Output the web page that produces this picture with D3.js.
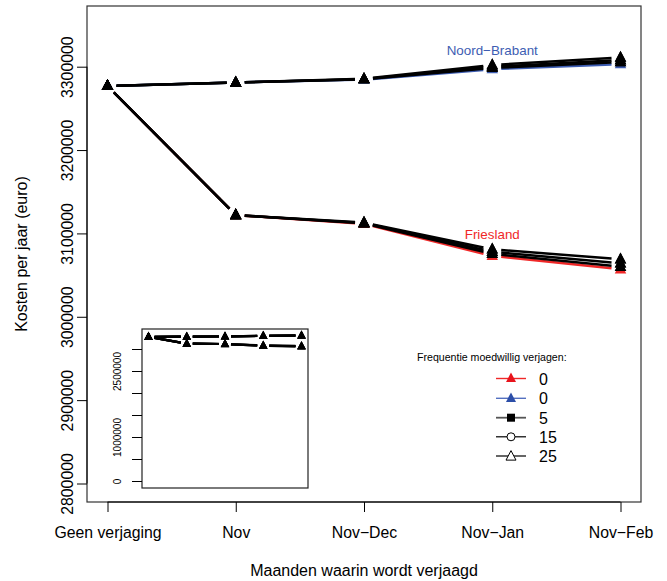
<!DOCTYPE html>
<html>
<head>
<meta charset="utf-8">
<script src="https://cdn.jsdelivr.net/npm/d3@7"></script>
<style>
  html, body { margin: 0; padding: 0; background: #fff; }
  svg { display: block; font-family: "Liberation Sans", Arial, Helvetica, sans-serif; }
</style>
</head>
<body>
<svg id="chart" width="667" height="581"></svg>
<script>
// ---------- DATA ----------
const categories = ["Geen verjaging", "Nov", "Nov\u2212Dec", "Nov\u2212Jan", "Nov\u2212Feb"];
const yTicks = [2800000, 2900000, 3000000, 3100000, 3200000, 3300000];
const insetTicks = [0, 500000, 1000000, 1500000, 2000000, 2500000, 3000000];
const insetTickLabels = ["0", "", "1000000", "", "", "2500000", ""];

const friesland0  = [3277000, 3122000, 3111500, 3073000, 3057000];
const friesland5  = [3277000, 3122000, 3112000, 3075500, 3060000];
const friesland15 = [3277000, 3122000, 3112500, 3078000, 3064000];
const friesland25 = [3277000, 3122000, 3113000, 3081000, 3069000];
const brabant0    = [3277000, 3281000, 3284500, 3297000, 3303000];
const brabant5    = [3277000, 3281000, 3285000, 3298500, 3305500];
const brabant15   = [3277000, 3281000, 3285000, 3300000, 3308000];
const brabant25   = [3277000, 3281000, 3285500, 3302000, 3311000];

const legendLabels = ["0", "0", "5", "15", "25"];
const legendTitle = "Frequentie moedwillig verjagen:";

// ---------- STYLE ----------
const RED = "#f02828", BLUE = "#3d5db2";
const FONT = "Liberation Sans, Arial, sans-serif";
const series = [
  { v: friesland0, c: RED }, { v: brabant0, c: BLUE },
  { v: friesland5, c: "#000" }, { v: brabant5, c: "#000" },
  { v: friesland15, c: "#000" }, { v: brabant15, c: "#000" },
  { v: friesland25, c: "#000" }, { v: brabant25, c: "#000" }
];

const svg = d3.select("#chart");
const box = { l: 87, r: 641, t: 6, b: 502 };

const x = d3.scalePoint().domain(categories).range([107.5, 620.5]).padding(0);
const y = d3.scaleLinear().domain([2800000, 3300000]).range([483.5, 66.7]);

function tri(cx, cy, s) {
  const h = s * 0.95;
  return `M${cx},${cy - h * 0.62}L${cx + s / 2},${cy + h * 0.38}L${cx - s / 2},${cy + h * 0.38}Z`;
}

function drawSeries(g, xs, ys, data, color, lw, gap, msize) {
  const pts = data.map((d, i) => [xs(categories[i]), ys(d)]);
  for (let i = 0; i < pts.length - 1; i++) {
    const [x1, y1] = pts[i], [x2, y2] = pts[i + 1];
    const dx = x2 - x1, dy = y2 - y1, L = Math.hypot(dx, dy);
    if (L <= 2 * gap) continue;
    const ux = dx / L, uy = dy / L;
    g.append("line")
      .attr("x1", x1 + ux * gap).attr("y1", y1 + uy * gap)
      .attr("x2", x2 - ux * gap).attr("y2", y2 - uy * gap)
      .attr("stroke", color).attr("stroke-width", lw);
  }
  pts.forEach(([px, py]) => {
    g.append("path").attr("d", tri(px, py, msize)).attr("fill", color);
  });
}

// ---------- MAIN PLOT ----------
const main = svg.append("g");
series.forEach(s => drawSeries(main, x, y, s.v, s.c, 2.5, 9, 11.5));
series.filter(s => s.c === "#000").forEach(s => {
  s.v.forEach((d, i) => main.append("path").attr("d", tri(x(categories[i]), y(d), 11.5)).attr("fill", "#000"));
});

// box
svg.append("rect").attr("x", box.l).attr("y", box.t)
  .attr("width", box.r - box.l).attr("height", box.b - box.t)
  .attr("fill", "none").attr("stroke", "#333").attr("stroke-width", 1.2);

// x axis
const xAxis = svg.append("g").attr("transform", `translate(0,${box.b})`)
  .call(d3.axisBottom(x).tickSize(10).tickPadding(15).tickSizeOuter(0));
xAxis.select(".domain").attr("d", `M${x(categories[0])},0H${x(categories[4])}`).attr("stroke", "#000");
xAxis.selectAll(".tick text").attr("font-size", "15.8px").attr("fill", "#000").attr("font-family", FONT);

// y axis
const yAxis = svg.append("g").attr("transform", `translate(${box.l},0)`)
  .call(d3.axisLeft(y).tickValues(yTicks).tickFormat(d3.format("d")).tickSize(10).tickSizeOuter(0));
yAxis.select(".domain").attr("d", `M0,${y(yTicks[0])}V${y(yTicks[yTicks.length - 1])}`).attr("stroke", "#000");
yAxis.selectAll(".tick text")
  .attr("x", null).attr("dy", null)
  .attr("text-anchor", "middle")
  .attr("transform", "translate(-14,0) rotate(-90)")
  .attr("font-size", "15.8px").attr("fill", "#000").attr("font-family", FONT);

// axis titles
svg.append("text").attr("x", 364).attr("y", 576).attr("text-anchor", "middle")
  .attr("font-size", "16px").text("Maanden waarin wordt verjaagd");
svg.append("text").attr("transform", `translate(27,254) rotate(-90)`).attr("text-anchor", "middle")
  .attr("font-size", "16px").text("Kosten per jaar (euro)");

// region labels
svg.append("text").attr("x", x(categories[3])).attr("y", 55).attr("text-anchor", "middle")
  .attr("font-size", "13.4px").attr("fill", BLUE).text("Noord\u2212Brabant");
svg.append("text").attr("x", x(categories[3])).attr("y", 239).attr("text-anchor", "middle")
  .attr("font-size", "13.4px").attr("fill", RED).text("Friesland");

// ---------- LEGEND ----------
const leg = svg.append("g");
leg.append("text").attr("x", 417).attr("y", 361).attr("font-size", "10.6px").text(legendTitle);
const legRows = [378.5, 398.3, 417.7, 436.8, 456];
const legStyles = [
  { c: RED, lw: 1.4, sym: "tri" },
  { c: "#5470c0", lw: 1.4, sym: "tri" },
  { c: "#555", lw: 1.8, sym: "sq" },
  { c: "#000", lw: 1.2, sym: "circ" },
  { c: "#000", lw: 1.2, sym: "otri" }
];
legendLabels.forEach((lab, i) => {
  const yy = legRows[i], st = legStyles[i];
  leg.append("line").attr("x1", 496).attr("x2", 526).attr("y1", yy).attr("y2", yy)
    .attr("stroke", st.c).attr("stroke-width", st.lw);
  if (st.sym === "tri") leg.append("path").attr("d", tri(511, yy, 10)).attr("fill", i === 0 ? "#e8141c" : "#2c4ea8");
  if (st.sym === "sq") leg.append("rect").attr("x", 507).attr("y", yy - 4).attr("width", 8).attr("height", 8).attr("fill", "#000");
  if (st.sym === "circ") leg.append("circle").attr("cx", 511).attr("cy", yy).attr("r", 4)
    .attr("fill", "#fff").attr("stroke", "#000").attr("stroke-width", 1);
  if (st.sym === "otri") leg.append("path").attr("d", tri(511, yy + 0.5, 10)).attr("fill", "#fff")
    .attr("stroke", "#000").attr("stroke-width", 1);
  leg.append("text").attr("x", 539).attr("y", yy + 6).attr("font-size", "16px").text(lab);
});

// ---------- INSET ----------
const ibox = { l: 142, r: 308, t: 329, b: 488 };
const xi = d3.scalePoint().domain(categories).range([148.5, 301.5]).padding(0);
const yi = d3.scaleLinear().domain([0, 3000000]).range([481, 349]);
const inset = svg.append("g");
inset.append("rect").attr("x", ibox.l).attr("y", ibox.t)
  .attr("width", ibox.r - ibox.l).attr("height", ibox.b - ibox.t)
  .attr("fill", "#fff").attr("stroke", "#222").attr("stroke-width", 1.2);
series.forEach(s => drawSeries(inset, xi, yi, s.v, "#000", 2.2, 6, 8.5));
const iAxis = svg.append("g").attr("transform", `translate(${ibox.l},0)`)
  .call(d3.axisLeft(yi).tickValues(insetTicks).tickFormat((d, i) => insetTickLabels[i]).tickSize(10).tickSizeOuter(0));
iAxis.select(".domain").remove();
iAxis.selectAll(".tick text")
  .attr("x", null).attr("dy", null)
  .attr("text-anchor", "middle")
  .attr("transform", "translate(-21,0) rotate(-90)")
  .attr("font-size", "10px").attr("fill", "#000").attr("font-family", FONT);
</script>
</body>
</html>
